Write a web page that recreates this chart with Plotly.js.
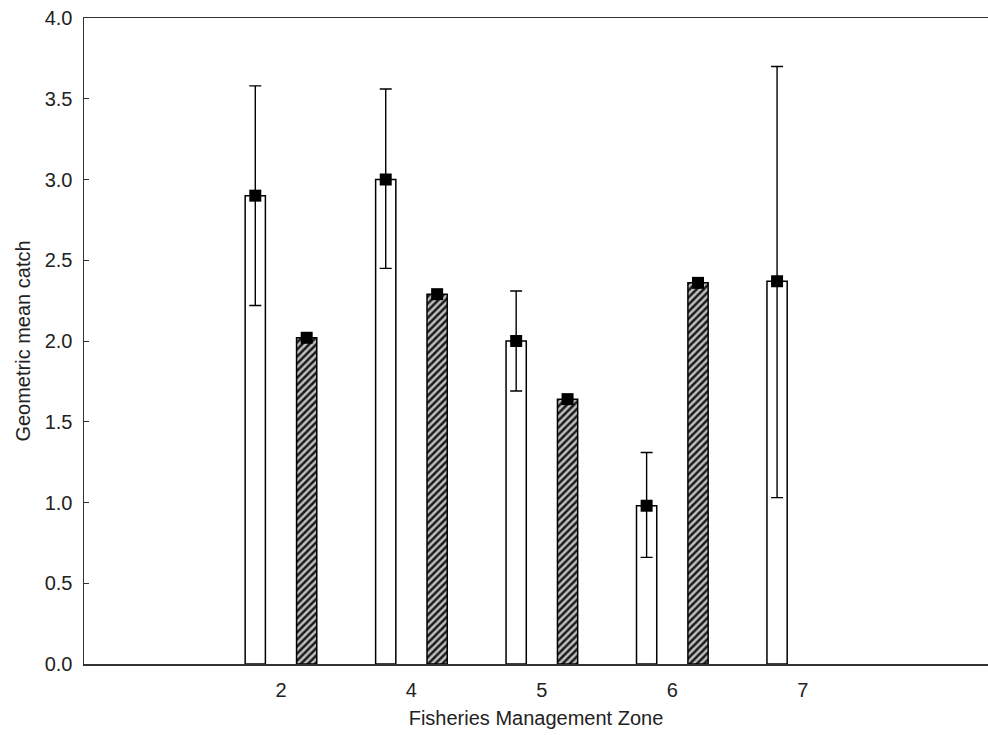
<!DOCTYPE html>
<html>
<head>
<meta charset="utf-8">
<script src="https://cdn.plot.ly/plotly-3.0.1.min.js"></script>
<style>
html,body{margin:0;padding:0;background:#fff;}
#chart{width:988px;height:735px;}
</style>
</head>
<body>
<div id="chart"></div>
<script>
// Data
const zones = ['2', '4', '5', '6', '7'];
const openMean  = [2.90, 3.00, 2.00, 0.98, 2.37];
const openUpper = [3.58, 3.56, 2.31, 1.31, 3.70];
const openLower = [2.22, 2.45, 1.69, 0.66, 1.03];
const hatchMean = [2.02, 2.29, 1.64, 2.36, null];
const yTicks = [0, 0.5, 1.0, 1.5, 2.0, 2.5, 3.0, 3.5, 4.0];

const idx = zones.map((z, i) => i);
const OFF = 0.197;   // half-distance between paired bars (category units)
const BW = 0.155;    // bar width (category units)

const xOpen = idx.map(i => i - OFF);
const xHatch = idx.map(i => i + OFF);

const openBars = {
  type: 'bar', x: xOpen, y: openMean, width: BW,
  marker: {color: '#ffffff', line: {color: '#000', width: 1.5}},
  hoverinfo: 'skip', showlegend: false
};
const hatchBars = {
  type: 'bar', x: xHatch, y: hatchMean, width: BW,
  marker: {color: '#bdbdbd', line: {color: '#000', width: 1.5},
    pattern: {shape: '/', fgcolor: '#1a1a1a', bgcolor: '#c0c0c0', size: 5, solidity: 0.5}},
  hoverinfo: 'skip', showlegend: false
};
const openPts = {
  type: 'scatter', mode: 'markers', x: xOpen, y: openMean,
  marker: {symbol: 'square', size: 12, color: '#000'},
  error_y: {type: 'data', symmetric: false,
    array: openMean.map((m, i) => openUpper[i] - m),
    arrayminus: openMean.map((m, i) => m - openLower[i]),
    color: '#000', thickness: 1.4, width: 6},
  showlegend: false
};
const hatchPts = {
  type: 'scatter', mode: 'markers', x: xHatch, y: hatchMean,
  marker: {symbol: 'square', size: 12, color: '#000'},
  showlegend: false
};

const font = {family: 'Liberation Sans, Arial, sans-serif', size: 20, color: '#222'};

const layout = {
  width: 988, height: 735,
  margin: {l: 84, r: 0, t: 18, b: 71},
  paper_bgcolor: '#fff', plot_bgcolor: '#fff',
  font: font,
  barmode: 'overlay',
  xaxis: {
    range: [-1.51, 5.42],
    tickmode: 'array', tickvals: idx, ticktext: zones,
    ticks: '', showgrid: false, zeroline: false,
    showline: true, linecolor: '#333', linewidth: 1.5, mirror: true,
    ticklabelstandoff: 7,
    title: {text: 'Fisheries Management Zone', font: font, standoff: 11}
  },
  yaxis: {
    range: [0, 4.0],
    tickmode: 'array', tickvals: yTicks, ticktext: yTicks.map(v => v.toFixed(1)),
    ticks: 'inside', ticklen: 5, tickcolor: '#333',
    showgrid: false, zeroline: false,
    showline: true, linecolor: '#333', linewidth: 1.5,
    ticklabelstandoff: 6,
    title: {text: 'Geometric mean catch', font: font, standoff: 8}
  }
};

Plotly.newPlot('chart', [openBars, hatchBars, openPts, hatchPts], layout, {displayModeBar: false, staticPlot: true});
</script>
</body>
</html>
